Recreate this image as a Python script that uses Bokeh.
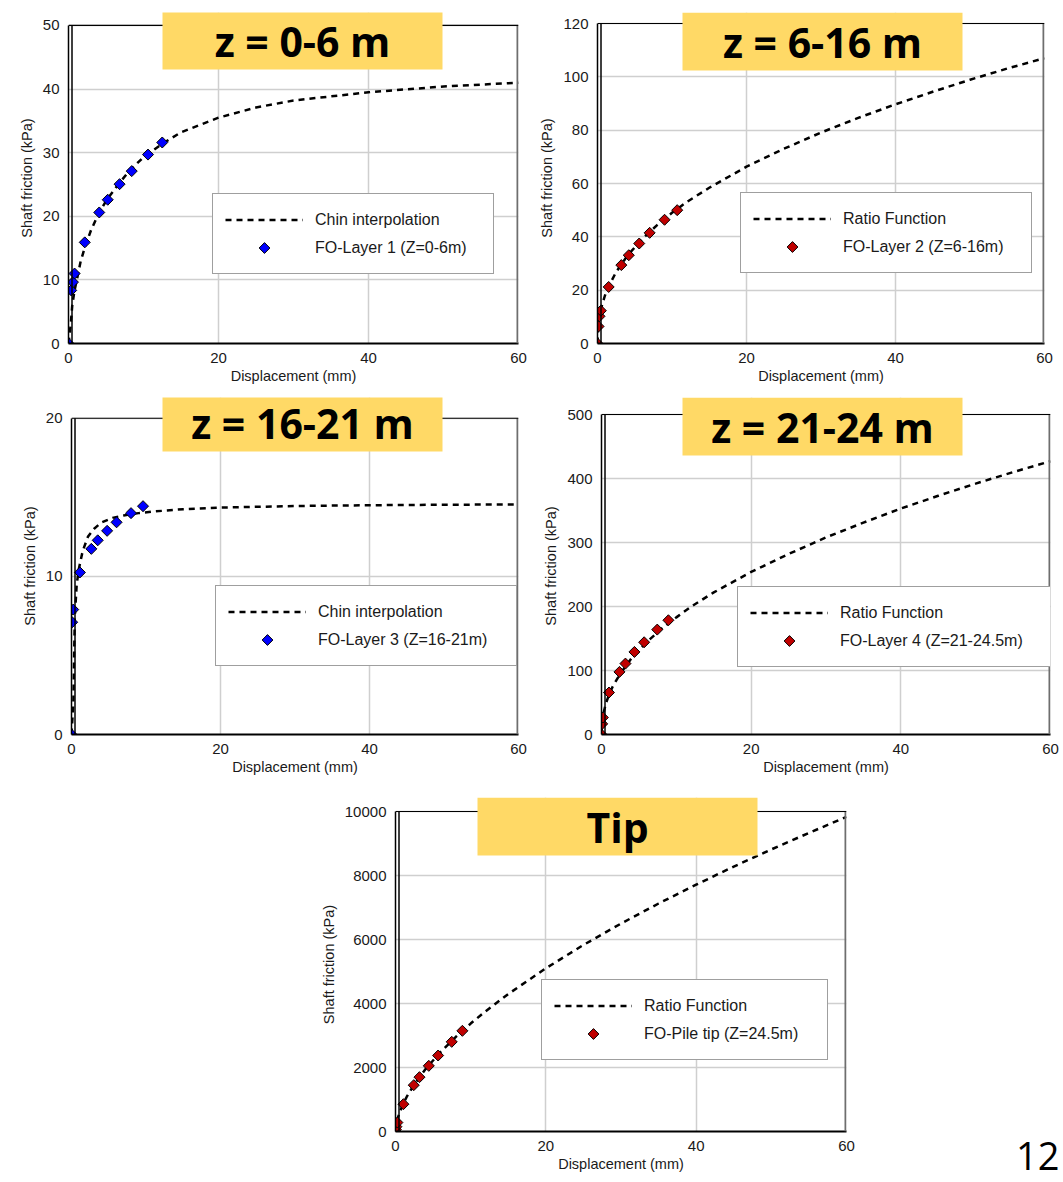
from bokeh.plotting import figure
from bokeh.models import (Range1d, FixedTicker, Legend, LegendItem,
                          BoxAnnotation, Label, Span, Div)
from bokeh.layouts import column, row
from bokeh.embed import file_html
from bokeh.resources import INLINE

# ---------------------------------------------------------------- data
disp_ticks = [0, 20, 40, 60]

# Layer 1, z = 0-6 m (Chin interpolation)
l1_disp = [0, 0.36, 0.59, 0.81, 2.17, 4.1, 5.23, 6.81, 8.43, 10.6, 12.5]
l1_fric = [0, 8.35, 9.65, 11.0, 15.9, 20.6, 22.6, 25.05, 27.1, 29.7, 31.6]
l1_fit_disp = [0, 0.3, 0.5, 0.8, 1.2, 1.6, 2.2, 3, 4, 5, 6.5, 8, 10, 12.5,
               15, 20, 25, 30, 40, 50, 60]
l1_fit_fric = [0, 3.0, 6.0, 8.3, 10.5, 12.8, 15.2, 17.8, 20.4, 22.4, 24.8,
               27.0, 29.3, 31.4, 33.2, 35.5, 37.1, 38.2, 39.5, 40.4, 41.0]
l1_ticks = [0, 10, 20, 30, 40, 50]

# Layer 2, z = 6-16 m (ratio function)
l2_disp = [0, 0.14, 0.27, 0.45, 1.5, 3.2, 4.2, 5.6, 7.0, 9.0, 10.7]
l2_fric = [0, 6.4, 10.2, 12.3, 21.2, 29.4, 33.1, 37.5, 41.5, 46.4, 50.0]
l2_fit_disp = [0, 0.1, 0.3, 0.6, 1, 1.5, 2.5, 4, 6, 8, 10, 12, 15, 20, 25,
               30, 35, 40, 45, 50, 55, 60]
l2_fit_fric = [0, 6.6, 10.6, 14.3, 18.0, 21.4, 26.8, 32.9, 39.2, 44.4, 49.0,
               53.1, 58.4, 66.3, 73.0, 79.1, 84.6, 89.7, 94.4, 98.9, 103.1,
               107.0]
l2_ticks = [0, 20, 40, 60, 80, 100, 120]

# Layer 3, z = 16-21 m (Chin interpolation)
l3_disp = [0, 0.09, 0.23, 1.13, 2.66, 3.52, 4.78, 6.05, 7.99, 9.6]
l3_fric = [0, 7.1, 7.9, 10.25, 11.74, 12.28, 12.88, 13.42, 14.0, 14.44]
l3_fit_disp = [0, 0.25, 0.35, 0.45, 0.7, 1.0, 1.5, 2.2, 3, 4, 5.5, 7, 9, 11,
               15, 20, 30, 40, 50, 60]
l3_fit_fric = [0, 2.0, 5.0, 7.5, 9.5, 10.5, 11.6, 12.5, 13.0, 13.4, 13.7,
               13.85, 14.0, 14.1, 14.25, 14.35, 14.45, 14.5, 14.53, 14.55]
l3_ticks = [0, 10, 20]

# Layer 4, z = 21-24.5 m (ratio function)
l4_disp = [0, 0.09, 0.18, 1.0, 2.4, 3.2, 4.4, 5.7, 7.45, 8.94]
l4_fric = [0, 16.6, 26.5, 65.6, 97.8, 110.8, 129, 144.1, 163.9, 178.5]
l4_fit_disp = [0, 0.1, 0.3, 0.6, 1, 1.5, 2.5, 4, 6, 8, 10, 12, 15, 20, 25,
               30, 35, 40, 45, 50, 55, 60]
l4_fit_fric = [0, 21, 35, 49, 62, 75, 95, 119, 144, 165, 183, 200, 222, 254,
               282, 308, 331, 353, 373, 392, 410, 427]
l4_ticks = [0, 100, 200, 300, 400, 500]

# Pile tip, z = 24.5 m (ratio function)
tip_disp = [0, 0.05, 0.12, 0.25, 1.05, 2.43, 3.19, 4.43, 5.67, 7.48, 8.9]
tip_res = [0, 60, 150, 280, 854, 1448, 1698, 2052, 2375, 2802, 3146]
tip_fit_disp = [0, 0.1, 0.3, 0.6, 1, 1.5, 2.5, 4, 6, 8, 10, 12, 15, 20, 25,
                30, 35, 40, 45, 50, 55, 60]
tip_fit_res = [0, 216, 416, 629, 853, 1087, 1474, 1951, 2486, 2952, 3373,
               3760, 4296, 5100, 5829, 6498, 7125, 7714, 8278, 8815, 9330,
               9833]
tip_ticks = [0, 2000, 4000, 6000, 8000, 10000]

BLUE = "#0000FF"
RED = "#C00000"
GOLD = "#FFD966"
FONT = "Liberation Sans"


def panel(width, height, borders, head, y_ticks, fit_x, fit_y, pts_x, pts_y,
          fit_name, pts_name, color, title, box_x, legend_loc, label_width):
    """One load-transfer panel.

    borders: (left, right, top, bottom) pixels around the tick area.
    head: pixels of frame kept above the top tick for the banner title.
    """
    left, right, top, bottom = borders
    tick_h = height - top - bottom
    y_max = y_ticks[-1]
    frame_w = width - left - right

    p = figure(width=width, height=height, output_backend="svg",
               toolbar_location=None,
               x_range=Range1d(disp_ticks[0], disp_ticks[-1]),
               y_range=Range1d(y_ticks[0], y_max * (tick_h + head) / tick_h),
               min_border_left=left, min_border_right=right,
               min_border_top=top - head, min_border_bottom=bottom,
               background_fill_color="white", border_fill_color="white")
    p.outline_line_color = None

    p.xaxis.ticker = FixedTicker(ticks=disp_ticks)
    p.yaxis.ticker = FixedTicker(ticks=y_ticks)
    p.yaxis.bounds = (y_ticks[0], y_max)
    p.grid.grid_line_color = "#cfcfcf"
    p.grid.grid_line_width = 1.5

    p.xaxis.axis_label = "Displacement (mm)"
    p.yaxis.axis_label = "Shaft friction (kPa)"
    p.axis.axis_label_text_font = FONT
    p.axis.axis_label_text_font_size = "14.5px"
    p.axis.axis_label_text_font_style = "normal"
    p.axis.axis_label_text_color = "#1a1a1a"
    p.axis.major_label_text_font = FONT
    p.axis.major_label_text_font_size = "15px"
    p.axis.major_label_text_color = "#1a1a1a"
    p.axis.major_tick_line_color = None
    p.axis.minor_tick_line_color = None
    p.axis.major_tick_out = 0
    p.axis.major_tick_in = 0
    p.xaxis.axis_line_color = "black"
    p.xaxis.axis_line_width = 2
    p.yaxis.axis_line_color = "black"
    p.yaxis.axis_line_width = 1.5
    p.xaxis.major_label_standoff = 9
    p.xaxis.axis_label_standoff = 2
    p.yaxis.major_label_standoff = 9
    p.yaxis.axis_label_standoff = 5

    # plot-area border: inner line of the doubled axis, top and right edges
    p.add_layout(BoxAnnotation(left=2.75, right=4.25, left_units="screen",
                               right_units="screen", bottom=y_ticks[0],
                               top=y_max, fill_color="black", fill_alpha=1,
                               line_color=None))
    p.add_layout(BoxAnnotation(left=frame_w - 2, right=frame_w,
                               left_units="screen", right_units="screen",
                               bottom=y_ticks[0], top=y_max,
                               fill_color="#6e6e6e", fill_alpha=1,
                               line_color=None))
    p.add_layout(Span(location=y_max, dimension="width", line_color="black",
                      line_width=1.2))

    fit = p.line(fit_x, fit_y, line_color="black", line_width=2.5,
                 line_dash="6 5")
    pts = p.ngon(x=pts_x, y=pts_y, radius=5.5, radius_units="screen", n=4,
                 fill_color=color, line_color="black", line_width=1)

    legend = Legend(items=[LegendItem(label=fit_name, renderers=[fit]),
                           LegendItem(label=pts_name, renderers=[pts])],
                    location=legend_loc, orientation="vertical",
                    border_line_color="#404040", border_line_width=1.5,
                    background_fill_color="white", background_fill_alpha=1,
                    label_text_font=FONT, label_text_font_size="16px",
                    label_text_color="#1a1a1a",
                    glyph_width=78, glyph_height=27, label_height=20,
                    label_width=label_width, label_standoff=12,
                    padding=12, spacing=1, margin=0)
    p.add_layout(legend)

    # banner title
    bl, br = box_x
    b_top = tick_h + head
    b_bot = b_top - 58
    p.add_layout(BoxAnnotation(left=bl, right=br, top=b_top, bottom=b_bot,
                               left_units="screen", right_units="screen",
                               top_units="screen", bottom_units="screen",
                               fill_color=GOLD, fill_alpha=1,
                               line_color=None))
    p.add_layout(Label(x=(bl + br) / 2, y=(b_top + b_bot) / 2,
                       x_units="screen", y_units="screen", text=title,
                       text_font="Open Sans", text_font_style="bold",
                       text_font_size="41px", text_align="center",
                       text_baseline="middle", text_color="black"))
    return p


p1 = panel(530, 390, (68, 12, 25, 46), 13, l1_ticks, l1_fit_disp,
           l1_fit_fric, l1_disp, l1_fric, "Chin interpolation",
           "FO-Layer 1 (Z=0-6m)", BLUE, "z = 0-6 m", (94, 374), (144, 69),
           166)
p2 = panel(533, 390, (67, 19, 23, 47), 11, l2_ticks, l2_fit_disp,
           l2_fit_fric, l2_disp, l2_fric, "Ratio Function",
           "FO-Layer 2 (Z=6-16m)", RED, "z = 6-16 m", (85, 365), (143, 70),
           176)
p3 = panel(530, 390, (71, 12, 28, 42), 21, l3_ticks, l3_fit_disp,
           l3_fit_fric, l3_disp, l3_fric, "Chin interpolation",
           "FO-Layer 3 (Z=16-21m)", BLUE, "z = 16-21 m", (91, 371), (144, 68),
           186)
p4 = panel(533, 390, (71, 13, 24, 46), 17, l4_ticks, l4_fit_disp,
           l4_fit_fric, l4_disp, l4_fric, "Ratio Function",
           "FO-Layer 4 (Z=21-24.5m)", RED, "z = 21-24 m", (81, 361), (136, 67),
           199)
p5 = panel(1003, 402, (395, 157, 31, 51), 14, tip_ticks, tip_fit_disp,
           tip_fit_res, tip_disp, tip_res, "Ratio Function",
           "FO-Pile tip (Z=24.5m)", RED, "Tip", (82, 362), (146, 71), 171)

# slide page number in the bottom-right corner
page = Div(text=('<div style="height:344px"></div>'
                 '<span style="display:inline-block;margin-left:8px;'
                 'font-family:\'Open Sans\';font-size:38px;line-height:normal;'
                 'color:#000;white-space:nowrap">12</span>'),
           width=54, height=400)

layout = column(row(p1, p2), row(p3, p4), row(p5, page))

open("out.html", "w").write(file_html(layout, INLINE))
